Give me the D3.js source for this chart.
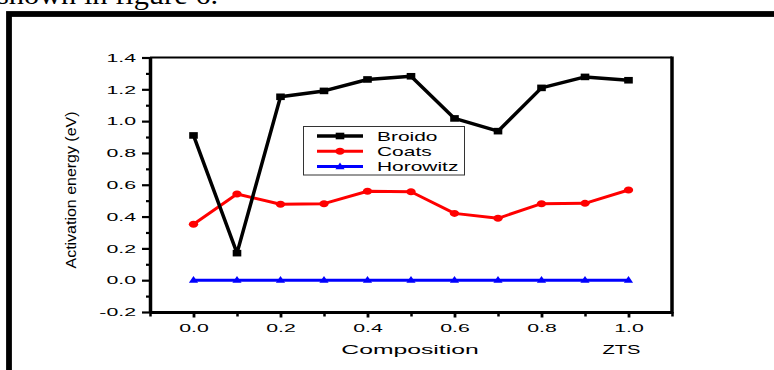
<!DOCTYPE html>
<html>
<head>
<meta charset="utf-8">
<script src="https://cdn.jsdelivr.net/npm/d3@7"></script>
<style>
  html, body { margin: 0; padding: 0; background: #fff; }
  svg { display: block; }
</style>
</head>
<body>
<script>
// data
var composition = [0.0, 0.1, 0.2, 0.3, 0.4, 0.5, 0.6, 0.7, 0.8, 0.9, 1.0];
var broido   = [0.91, 0.17, 1.153, 1.19, 1.262, 1.282, 1.017, 0.937, 1.209, 1.278, 1.257];
var coats    = [0.352, 0.542, 0.477, 0.481, 0.559, 0.556, 0.42, 0.389, 0.481, 0.483, 0.567];
var horowitz = [0, 0, 0, 0, 0, 0, 0, 0, 0, 0, 0];
var seriesNames = ["Broido", "Coats", "Horowitz"];
var xTicks = [0.0, 0.2, 0.4, 0.6, 0.8, 1.0];
var xMinor = [-0.1, 0.1, 0.3, 0.5, 0.7, 0.9, 1.1];
var yTicks = [-0.2, 0.0, 0.2, 0.4, 0.6, 0.8, 1.0, 1.2, 1.4];
var yMinor = [-0.1, 0.1, 0.3, 0.5, 0.7, 0.9, 1.1, 1.3];

var svgWidth = 774, svgHeight = 370;
var plot = { left: 150, right: 672, top: 57.5, bottom: 312 };
var sans = "'Liberation Sans', Arial, Helvetica, sans-serif";

var svg = d3.select("body").append("svg")
  .attr("width", svgWidth)
  .attr("height", svgHeight);

svg.append("rect").attr("width", svgWidth).attr("height", svgHeight).attr("fill", "#fff");

// stretch text horizontally (the figure was scaled wider than tall)
function stretch(sel, k) {
  sel.each(function() {
    var w = this.getComputedTextLength();
    this.setAttribute("textLength", w * k);
    this.setAttribute("lengthAdjust", "spacingAndGlyphs");
  });
}

// cut-off sentence above the figure
svg.append("text")
  .attr("x", -3)
  .attr("y", 4)
  .attr("font-family", "'Liberation Serif', 'Times New Roman', serif")
  .attr("font-size", "28px")
  .attr("textLength", 221)
  .attr("lengthAdjust", "spacingAndGlyphs")
  .text("shown in figure 6.");

// thick frame around the figure
svg.append("rect")
  .attr("x", 9).attr("y", 14)
  .attr("width", 820).attr("height", 420)
  .attr("fill", "none")
  .attr("stroke", "#000")
  .attr("stroke-width", 5.8);

var x = d3.scaleLinear().domain([-0.1, 1.1]).range([plot.left, plot.right]);
var y = d3.scaleLinear().domain([-0.2, 1.4]).range([plot.bottom, plot.top]);

var fmt = function(d) { return d.toFixed(1); };

// top and right frame of the plot
svg.append("line")
  .attr("x1", plot.left).attr("x2", plot.right)
  .attr("y1", plot.top).attr("y2", plot.top)
  .attr("stroke", "#000").attr("stroke-width", 2);
svg.append("line")
  .attr("x1", plot.right).attr("x2", plot.right)
  .attr("y1", plot.top - 1).attr("y2", plot.bottom + 1.5)
  .attr("stroke", "#000").attr("stroke-width", 3.5);

// minor ticks
svg.append("g")
  .attr("transform", "translate(" + plot.left + ",0)")
  .call(d3.axisLeft(y).tickValues(yMinor).tickSize(4).tickSizeOuter(0).tickFormat(""))
  .call(g => g.select(".domain").remove())
  .selectAll("line").attr("stroke-width", 2.2);
svg.append("g")
  .attr("transform", "translate(0," + plot.bottom + ")")
  .call(d3.axisBottom(x).tickValues(xMinor).tickSize(4.5).tickSizeOuter(0).tickFormat(""))
  .call(g => g.select(".domain").remove())
  .selectAll("line").attr("stroke-width", 2.5);

// y axis
var yAxisG = svg.append("g")
  .attr("transform", "translate(" + plot.left + ",0)")
  .call(d3.axisLeft(y).tickValues(yTicks).tickFormat(fmt).tickSize(8).tickSizeOuter(0).tickPadding(6));
yAxisG.select(".domain").attr("stroke-width", 3.5);
yAxisG.selectAll("line").attr("stroke-width", 2.2);
yAxisG.selectAll("text")
  .attr("font-family", sans).attr("font-size", "11.5px").attr("fill", "#000")
  .call(stretch, 1.85);

// x axis
var xAxisG = svg.append("g")
  .attr("transform", "translate(0," + plot.bottom + ")")
  .call(d3.axisBottom(x).tickValues(xTicks).tickFormat(fmt).tickSize(5.5).tickSizeOuter(0).tickPadding(6));
xAxisG.select(".domain").attr("stroke-width", 3);
xAxisG.selectAll("line").attr("stroke-width", 2.8);
xAxisG.selectAll("text")
  .attr("font-family", sans).attr("font-size", "11.5px").attr("fill", "#000")
  .call(stretch, 1.85);

// axis titles
svg.append("text")
  .attr("x", 410).attr("y", 353.5)
  .attr("text-anchor", "middle")
  .attr("font-family", sans).attr("font-size", "13px")
  .text("Composition")
  .call(stretch, 1.9);
svg.append("text")
  .attr("x", 621.5).attr("y", 353.5)
  .attr("text-anchor", "middle")
  .attr("font-family", sans).attr("font-size", "13px")
  .text("ZTS")
  .call(stretch, 1.55);
svg.append("text")
  .attr("transform", "translate(76,190) rotate(-90)")
  .attr("text-anchor", "middle")
  .attr("font-family", sans).attr("font-size", "15px")
  .attr("textLength", 157)
  .attr("lengthAdjust", "spacingAndGlyphs")
  .text("Activation energy (eV)");

// series
var series = [
  { name: seriesNames[0], values: broido,   color: "#000",    width: 3.5, shape: "square" },
  { name: seriesNames[1], values: coats,    color: "#ff0000", width: 3,   shape: "circle" },
  { name: seriesNames[2], values: horowitz, color: "#0000ff", width: 3,   shape: "triangle" }
];

function drawMarker(g, shape, color) {
  if (shape === "square") {
    g.append("rect").attr("x", -4.3).attr("y", -3.3).attr("width", 8.6).attr("height", 6.6).attr("fill", color);
  } else if (shape === "circle") {
    g.append("ellipse").attr("rx", 4.7).attr("ry", 3.5).attr("fill", color);
  } else {
    g.append("path").attr("d", "M-4.6,2.6L4.6,2.6L0,-4.2Z").attr("fill", color);
  }
}

var line = d3.line()
  .x(d => x(d[0]))
  .y(d => y(d[1]));

series.slice().reverse().forEach(function(s) {
  var pts = composition.map((c, i) => [c, s.values[i]]);
  svg.append("path")
    .datum(pts)
    .attr("d", line)
    .attr("fill", "none")
    .attr("stroke", s.color)
    .attr("stroke-width", s.width)
    .attr("stroke-linejoin", "round");
  svg.selectAll(null)
    .data(pts)
    .enter()
    .append("g")
    .attr("transform", d => "translate(" + x(d[0]) + "," + y(d[1]) + ")")
    .each(function() { drawMarker(d3.select(this), s.shape, s.color); });
});

// legend
var legend = svg.append("g");
legend.append("rect")
  .attr("x", 303.5).attr("y", 126.5)
  .attr("width", 161).attr("height", 48.5)
  .attr("fill", "#fff")
  .attr("stroke", "#333")
  .attr("stroke-width", 1);
series.forEach(function(s, i) {
  var ry = 136 + i * 15.3;
  legend.append("line")
    .attr("x1", 317).attr("x2", 363)
    .attr("y1", ry).attr("y2", ry)
    .attr("stroke", s.color).attr("stroke-width", s.width);
  var m = legend.append("g").attr("transform", "translate(340," + ry + ")");
  drawMarker(m, s.shape, s.color);
  legend.append("text")
    .attr("x", 377).attr("y", ry)
    .attr("dy", "0.36em")
    .attr("font-family", sans).attr("font-size", "13.5px")
    .text(s.name)
    .call(stretch, 1.55);
});
</script>
</body>
</html>
